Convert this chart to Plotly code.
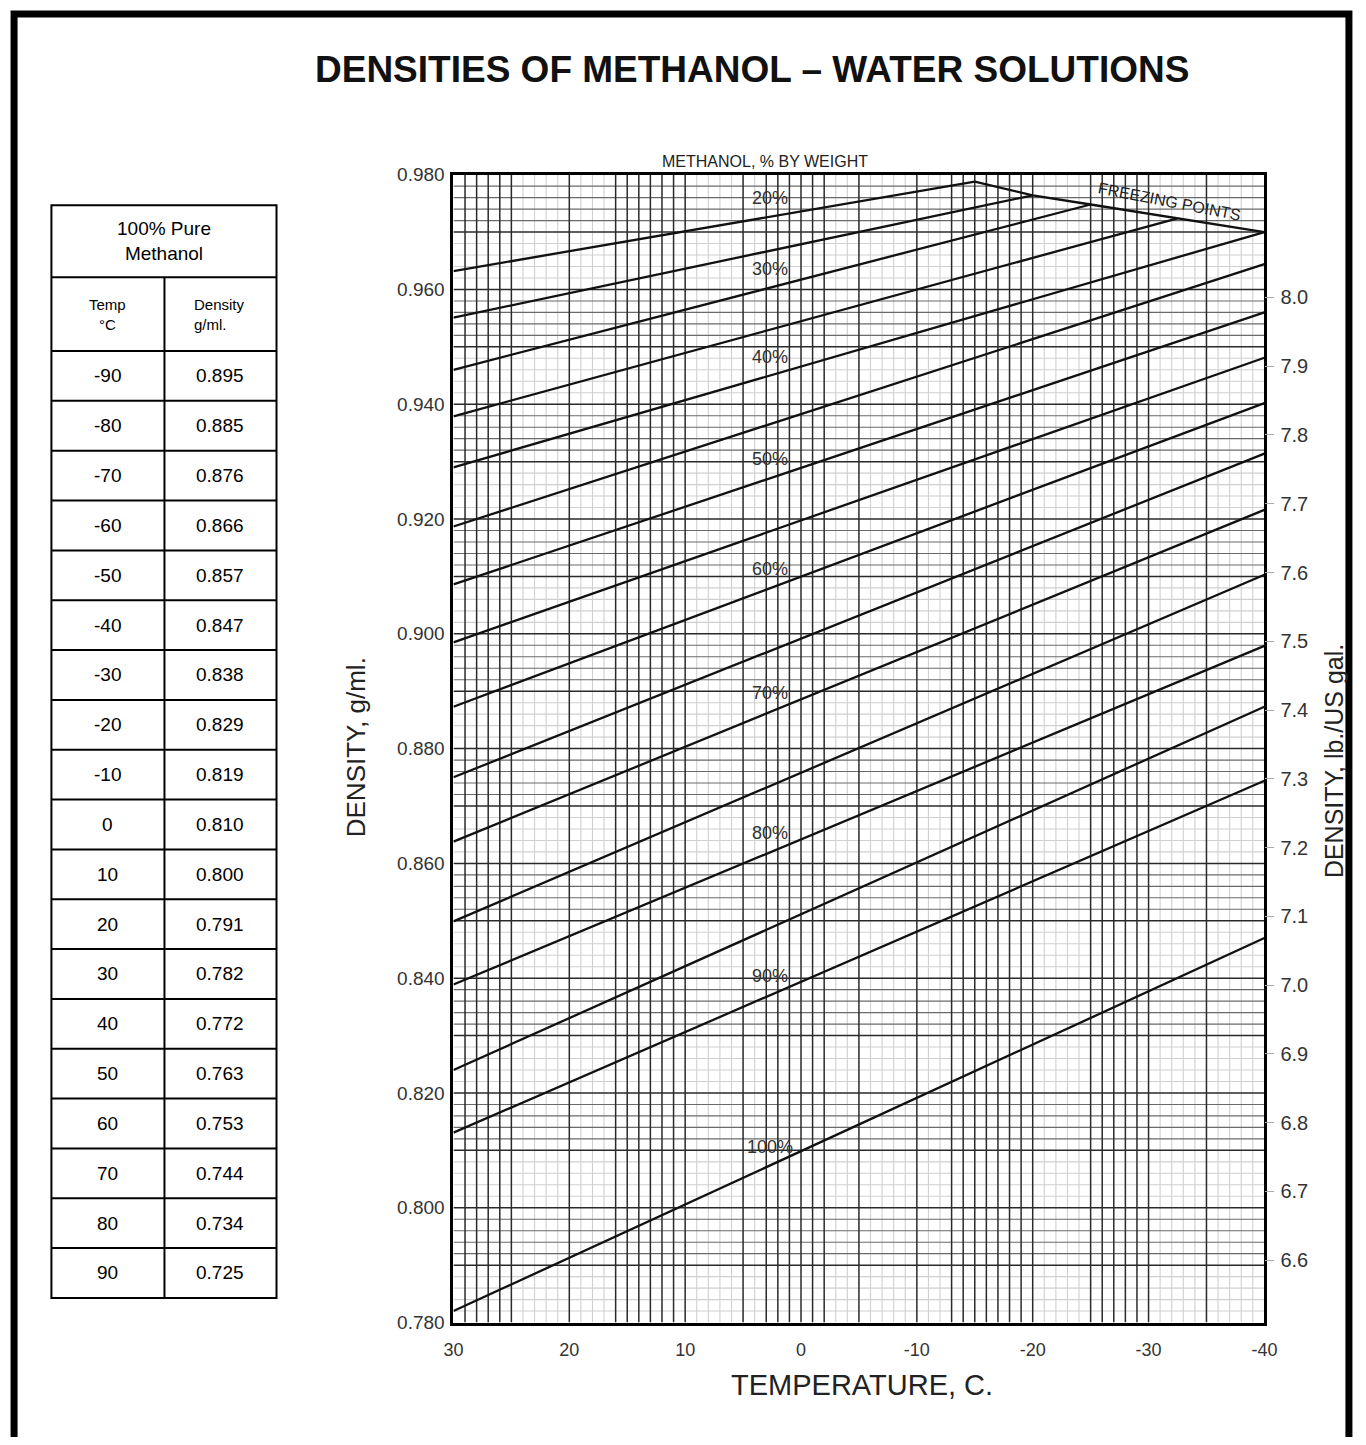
import plotly.graph_objects as go

# page is 1366x1445; the browser adds an 8px body margin, so the figure is 16px smaller
PAGE_W, PAGE_H = 1366, 1445
OFF = 8
W, H = PAGE_W - 2 * OFF, PAGE_H - 2 * OFF

# ---------------- data ----------------
pct = [20, 25, 30, 35, 40, 45, 50, 55, 60, 65, 70, 75, 80, 85, 90, 100]
dens_30c = [0.9632, 0.9551, 0.9460, 0.9379, 0.9290, 0.9187, 0.9086, 0.8985,
            0.8873, 0.8750, 0.8638, 0.8499, 0.8389, 0.8240, 0.8131, 0.7820]
end_temp = [-15.0, -20.0, -25.0, -32.5, -40, -40, -40, -40,
            -40, -40, -40, -40, -40, -40, -40, -40]
end_dens = [0.9788, 0.9764, 0.9748, 0.9724, 0.9700, 0.9644, 0.9560, 0.9481,
            0.9402, 0.9314, 0.9216, 0.9103, 0.8979, 0.8873, 0.8744, 0.8470]

freeze_temp = [-15.0, -20.0, -25.0, -32.5, -40.0]
freeze_dens = [0.9788, 0.9764, 0.9748, 0.9724, 0.9700]

x_ticks = [30, 20, 10, 0, -10, -20, -30, -40]
x_tick_text = ["30", "20", "10", "0", "-10", "-20", "-30", "-40"]
y_ticks = [0.780, 0.800, 0.820, 0.840, 0.860, 0.880, 0.900, 0.920, 0.940, 0.960, 0.980]
lb_ticks = [6.6, 6.7, 6.8, 6.9, 7.0, 7.1, 7.2, 7.3, 7.4, 7.5, 7.6, 7.7, 7.8, 7.9, 8.0]
G_TO_LB = 8.3454

table_temp = [-90, -80, -70, -60, -50, -40, -30, -20, -10, 0, 10, 20, 30, 40, 50, 60, 70, 80, 90]
table_dens = ["0.895", "0.885", "0.876", "0.866", "0.857", "0.847", "0.838", "0.829", "0.819",
              "0.810", "0.800", "0.791", "0.782", "0.772", "0.763", "0.753", "0.744", "0.734", "0.725"]

dark_v = [29, 28, 27, 26, 25, 20, 16, 15, 14, 13, 12, 11, 10, 5, 3, 2, 1, 0, -1, -2, -5,
          -10, -13, -14, -15, -16, -17, -18, -19, -20, -25, -26, -27, -28, -29, -30, -35]

FONT = "Liberation Sans, Arial, Helvetica, sans-serif"


def px(x):
    return (x - OFF) / W


def py(y):
    return 1 - (y - OFF) / H


fig = go.Figure()

# ---------------- grid ----------------
T_MIN, T_MAX = -40, 30
D_MIN, D_MAX = 0.78, 0.98

light_x, light_y = [], []
mid_x, mid_y = [], []
dark_x, dark_y = [], []

for t in range(T_MIN + 1, T_MAX):
    if t in dark_v:
        dark_x += [t, t, None]
        dark_y += [D_MIN, D_MAX, None]
    else:
        light_x += [t, t, None]
        light_y += [D_MIN, D_MAX, None]

for k in range(1, 100):
    d = D_MIN + k * 0.002
    if k % 5 == 0:
        dark_x += [T_MAX, T_MIN, None]
        dark_y += [d, d, None]
    elif (k // 5) % 2 == 1:
        mid_x += [T_MAX, T_MIN, None]
        mid_y += [d, d, None]
    else:
        light_x += [T_MAX, T_MIN, None]
        light_y += [d, d, None]

fig.add_trace(go.Scatter(x=light_x, y=light_y, mode="lines",
                         line=dict(color="#d0d0d0", width=1.1),
                         hoverinfo="skip", showlegend=False))
fig.add_trace(go.Scatter(x=mid_x, y=mid_y, mode="lines",
                         line=dict(color="#6a6a6a", width=1.1),
                         hoverinfo="skip", showlegend=False))
fig.add_trace(go.Scatter(x=dark_x, y=dark_y, mode="lines",
                         line=dict(color="#2a2a2a", width=1.5),
                         hoverinfo="skip", showlegend=False))

# ---------------- concentration lines ----------------
for p, d30, te, de in zip(pct, dens_30c, end_temp, end_dens):
    fig.add_trace(go.Scatter(x=[30, te], y=[d30, de], mode="lines",
                             line=dict(color="#111111", width=2.3),
                             name=f"{p}%", showlegend=False))

fig.add_trace(go.Scatter(x=freeze_temp, y=freeze_dens, mode="lines",
                         line=dict(color="#111111", width=2.3),
                         name="Freezing points", showlegend=False))

# invisible trace for the right-hand (lb/US gal) axis
fig.add_trace(go.Scatter(x=[30], y=[7.0], yaxis="y2", mode="markers",
                         marker=dict(opacity=0), hoverinfo="skip", showlegend=False))

annotations = []


def note(x, y, text, size, color="#222", **kw):
    d = dict(x=px(x), y=py(y), xref="paper", yref="paper", text=text,
             showarrow=False, xanchor="center", yanchor="middle",
             font=dict(family=FONT, size=size, color=color))
    d.update(kw)
    annotations.append(d)


# labels of the concentration lines
LABEL_T = 2.7
for p, d30, te, de in zip(pct, dens_30c, end_temp, end_dens):
    if p % 10 != 0:
        continue
    d_at = d30 + (de - d30) * (30 - LABEL_T) / (30 - te)
    annotations.append(dict(x=LABEL_T, y=d_at + 0.0033, xref="x", yref="y",
                            text=f"{p}%", showarrow=False,
                            xanchor="center", yanchor="middle",
                            font=dict(family=FONT, size=18, color="#333")))

# freezing points label
annotations.append(dict(x=-31.8, y=0.9753, xref="x", yref="y", text="FREEZING POINTS",
                        showarrow=False, textangle=11, xanchor="center", yanchor="middle",
                        font=dict(family=FONT, size=16, color="#222")))

# titles
note(755, 60, "<b>DENSITIES OF METHANOL – WATER SOLUTIONS</b>", 37, "#111")
note(768, 154, "METHANOL, % BY WEIGHT", 16)
note(352, 748, "DENSITY, g/ml.", 26, textangle=-90)
note(1347, 762, "DENSITY, lb./US gal.", 25, textangle=-90)
note(867, 1395, "TEMPERATURE, C.", 29)

# ---------------- table ----------------
shapes = []
TX0, TX1, TXM = 42, 271, 157
TY0, TY_H1, TY_H2, TY1 = 198, 271, 346, 1307
row_h = (TY1 - TY_H2) / len(table_temp)

line_style = dict(color="black", width=2)
shapes.append(dict(type="rect", xref="paper", yref="paper",
                   x0=px(TX0), x1=px(TX1), y0=py(TY1), y1=py(TY0), line=line_style))
shapes.append(dict(type="line", xref="paper", yref="paper",
                   x0=px(TX0), x1=px(TX1), y0=py(TY_H1), y1=py(TY_H1), line=line_style))
shapes.append(dict(type="line", xref="paper", yref="paper",
                   x0=px(TXM), x1=px(TXM), y0=py(TY1), y1=py(TY_H1), line=line_style))
for i in range(len(table_temp)):
    yy = TY_H2 + i * row_h
    shapes.append(dict(type="line", xref="paper", yref="paper",
                       x0=px(TX0), x1=px(TX1), y0=py(yy), y1=py(yy), line=line_style))

note((TX0 + TX1) / 2, (TY0 + TY_H1) / 2, "100% Pure<br>Methanol", 19, "black")
note((TX0 + TXM) / 2, (TY_H1 + TY_H2) / 2, "Temp<br>°C", 15, "black")
note(185, (TY_H1 + TY_H2) / 2, "Density<br>g/ml.", 15, "black", xanchor="left", align="left")
for i, (t, d) in enumerate(zip(table_temp, table_dens)):
    yc = TY_H2 + (i + 0.5) * row_h
    note((TX0 + TXM) / 2, yc, str(t), 19, "black")
    note((TXM + TX1) / 2, yc, d, 19, "black")

# outer frame of the page
shapes.append(dict(type="rect", xref="paper", yref="paper",
                   x0=px(4), x1=px(PAGE_W - 4), y0=-0.05, y1=py(4),
                   line=dict(color="black", width=7)))

fig.update_layout(
    width=W, height=H, autosize=False,
    margin=dict(l=0, r=0, t=0, b=0),
    paper_bgcolor="white", plot_bgcolor="white",
    showlegend=False,
    annotations=annotations,
    shapes=shapes,
    xaxis=dict(domain=[px(451), px(1276)], range=[30, -40], tickvals=x_ticks,
               ticktext=x_tick_text,
               showgrid=False, zeroline=False, showline=True, linewidth=3,
               linecolor="black", mirror=True, ticks="", ticklabelstandoff=9,
               tickfont=dict(family=FONT, size=18, color="#333")),
    yaxis=dict(domain=[py(1332), py(167)], range=[D_MIN, D_MAX], tickvals=y_ticks,
               tickformat=".3f", showgrid=False, zeroline=False, showline=True,
               linewidth=3, linecolor="black", mirror=True, ticks="",
               ticklabelstandoff=2,
               tickfont=dict(family=FONT, size=19, color="#333")),
    yaxis2=dict(overlaying="y", side="right", anchor="x",
                range=[D_MIN * G_TO_LB, D_MAX * G_TO_LB], tickvals=lb_ticks,
                tickformat=".1f", showgrid=False, zeroline=False, showline=False,
                ticks="outside", ticklen=9, tickcolor="#aaa", ticklabelstandoff=2,
                tickfont=dict(family=FONT, size=20, color="#333")),
)

fig.write_html("out.html", config={"displayModeBar": False})
